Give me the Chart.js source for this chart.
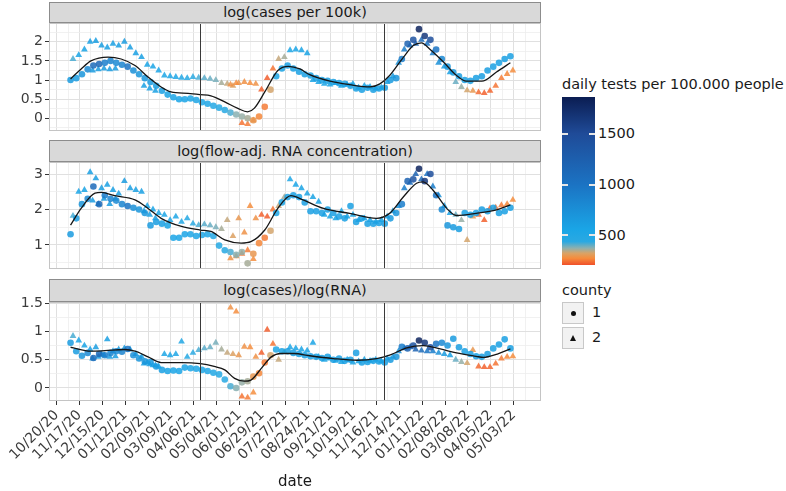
<!DOCTYPE html>
<html>
<head>
<meta charset="utf-8">
<script src="https://cdn.jsdelivr.net/npm/chart.js@4.4.0/dist/chart.umd.min.js"></script>
<style>
  body { margin: 0; width: 786px; height: 491px; background: #fff; position: relative; overflow: hidden;
         font-family: "DejaVu Sans", sans-serif; }
  canvas { position: absolute; left: 0; }
  .strip { position: absolute; left: 49px; width: 492px; background: #d9d9d9; border: 1px solid #8c8c8c;
           box-sizing: border-box; text-align: center; font-size: 14.5px; color: #1a1a1a; }
  .lt { position: absolute; font-size: 14.5px; line-height: 17px; color: #1a1a1a; white-space: nowrap; }
  #bar { position: absolute; left: 562px; top: 97px; width: 33px; height: 168px; }
  .tk { position: absolute; width: 6px; height: 2px; background: #e6e6e6; }
  .key { position: absolute; left: 562px; width: 22px; height: 22px; background: #f2f2f2; border: 1px solid #c8c8c8; box-sizing: border-box; }
  .dot { position: absolute; left: 8px; top: 8px; width: 5px; height: 5px; border-radius: 50%; background: #111; }
  .tri { position: absolute; left: 7px; top: 7px; width: 0; height: 0; border-left: 3.5px solid transparent;
         border-right: 3.5px solid transparent; border-bottom: 6px solid #111; }
</style>
</head>
<body>
<div class="strip" style="top:2px;height:21px;line-height:19px">log(cases per 100k)</div>
<div class="strip" style="top:140px;height:22px;line-height:20px">log(flow-adj. RNA concentration)</div>
<div class="strip" style="top:279px;height:23px;line-height:21px">log(cases)/log(RNA)</div>
<canvas id="p1" width="550" height="108" style="top:23px"></canvas>
<canvas id="p2" width="550" height="107" style="top:162px"></canvas>
<canvas id="p3" width="550" height="199" style="top:292px"></canvas>

<div class="lt" style="left:562px;top:76px">daily tests per 100.000 people</div>
<div id="bar"></div>
<div class="lt" style="left:562px;top:282px">county</div>
<div class="key" style="top:302px"><span class="dot"></span></div>
<div class="lt" style="left:592px;top:304px">1</div>
<div class="key" style="top:327px"><span class="tri"></span></div>
<div class="lt" style="left:592px;top:329px">2</div>

<script>
// x axis: days since 10/20/20
const tickLabels = ['10/20/20', '11/17/20', '12/15/20', '01/12/21', '02/09/21', '03/09/21', '04/06/21',
  '05/04/21', '06/01/21', '06/29/21', '07/27/21', '08/24/21', '09/21/21', '10/19/21', '11/16/21',
  '12/14/21', '01/11/22', '02/08/22', '03/08/22', '04/05/22', '05/03/22'];
const vlineDays = [176, 401];
const xRange = [-9.4, 593.5];

// county 1 (circles)
const c1Day = [17, 24, 31, 38, 45, 52, 59, 66, 73, 80,
  87, 94, 101, 108, 115, 122, 129, 136, 143, 150,
  157, 164, 171, 178, 185, 192, 199, 206, 213, 220,
  227, 234, 241, 248, 255, 262, 269, 276, 283, 290,
  297, 304, 311, 318, 325, 332, 339, 346, 353, 360,
  367, 374, 381, 388, 395, 402, 409, 416, 423, 430,
  437, 444, 451, 458, 465, 472, 479, 486, 493, 500,
  507, 514, 521, 528, 535, 542, 549, 556];
const c1Cases = [1.0, 1.05, 1.15, 1.28, 1.38, 1.42, 1.45, 1.5, 1.45, 1.4,
  1.35, 1.25, 1.15, 1.05, 0.95, 0.85, 0.72, 0.62, 0.55, 0.5,
  0.5, 0.52, 0.48, 0.42, 0.38, 0.33, 0.28, 0.22, 0.15, 0.1,
  0.05, 0.0, -0.05, 0.05, 0.3, 0.75, 1.1, 1.3, 1.38, 1.3,
  1.22, 1.15, 1.12, 1.05, 1.0, 0.98, 0.95, 0.92, 0.9, 0.85,
  0.78, 0.75, 0.8, 0.75, 0.78, 0.8, 1.0, 1.05, 1.55, 1.95,
  2.05, 2.33, 2.15, 2.05, 1.8, 1.55, 1.35, 1.2, 1.1, 1.0,
  0.98, 1.05, 1.1, 1.25, 1.35, 1.45, 1.55, 1.62];
const c1Rna = [1.3, 1.75, 2.15, 2.3, 2.65, 2.15, 2.4, 2.3, 2.25, 2.15,
  2.1, 2.05, 2.0, 1.9, 1.55, 1.65, 1.6, 1.55, 1.2, 1.2,
  1.3, 1.3, 1.25, 1.28, 1.3, 1.25, 0.98, 0.85, 0.8, 0.72,
  0.8, 0.48, 0.75, 1.05, 1.2, 1.4, 1.9, 2.2, 2.35, 2.4,
  2.35, 2.2, 1.95, 1.95, 1.9, 2.0, 1.9, 1.8, 1.75, 2.1,
  1.65, 1.75, 1.6, 1.6, 1.62, 1.6, 1.75, 1.9, 2.15, 2.8,
  2.85, 3.15, 2.8, 3.0, 2.4, 2.0, 1.55, 1.5, 1.45, 1.9,
  1.85, 1.9, 2.0, 1.95, 2.05, 1.9, 1.95, 2.05];
const c1Ratio = [0.8, 0.65, 0.57, 0.62, 0.53, 0.6, 0.58, 0.62, 0.65, 0.64,
  0.69, 0.58, 0.52, 0.47, 0.46, 0.38, 0.32, 0.3, 0.31, 0.3,
  0.36, 0.35, 0.34, 0.32, 0.3, 0.27, 0.24, 0.15, 0.03, 0.0,
  0.1, 0.12, 0.2, 0.26, 0.45, 0.58, 0.68, 0.65, 0.65, 0.62,
  0.6, 0.58, 0.56, 0.55, 0.53, 0.55, 0.5, 0.52, 0.48, 0.5,
  0.62, 0.45, 0.46, 0.48, 0.47, 0.45, 0.5, 0.55, 0.73, 0.7,
  0.75, 0.84, 0.8, 0.72, 0.78, 0.8, 0.75, 0.87, 0.72, 0.65,
  0.6, 0.56, 0.55, 0.6, 0.7, 0.77, 0.86, 0.7];
const c1Tests = [650, 640, 700, 800, 1100, 1150, 900, 850, 800, 850,
  1000, 750, 700, 680, 650, 620, 600, 580, 560, 560,
  550, 540, 530, 520, 520, 500, 480, 460, 420, 380,
  370, 360, 300, 270, 260, 330, 520, 580, 600, 600,
  600, 600, 600, 600, 600, 600, 600, 600, 600, 600,
  600, 600, 600, 600, 600, 620, 650, 700, 900, 1200,
  1400, 1800, 1650, 1450, 1000, 800, 700, 650, 620, 600,
  600, 600, 620, 620, 600, 600, 600, 600];

// county 2 (triangles)
const c2Day = [20, 27, 34, 41, 48, 55, 62, 69, 76, 83,
  90, 97, 104, 111, 118, 125, 132, 139, 146, 153,
  160, 167, 174, 181, 188, 195, 202, 209, 216, 223,
  230, 237, 244, 251, 258, 265, 272, 279, 286, 293,
  300, 307, 314, 321, 328, 335, 342, 349, 356, 363,
  370, 377, 384, 391, 398, 405, 412, 419, 426, 433,
  440, 447, 454, 461, 468, 475, 482, 489, 496, 503,
  510, 517, 524, 531, 538, 545, 552, 559,
  44, 51, 58, 65, 72, 107, 114, 121, 213, 220, 227, 234, 241];
const c2Cases = [1.55, 1.65, 1.8, 2.0, 2.02, 1.9, 1.85, 1.95, 1.9, 2.0,
  1.85, 1.7, 1.6, 1.4, 1.35, 1.25, 1.12, 1.1, 1.08, 1.06,
  1.05, 1.08, 1.06, 1.05, 1.03, 1.0, 0.92, 0.9, 0.85, 0.92,
  0.95, 0.92, 0.9, 0.75, 1.05, 1.3, 1.55, 1.6, 1.78, 1.8,
  1.78, 1.7, 1.0, 0.95, 0.9, 0.88, 0.92, 0.85, 0.88, 0.9,
  0.8, 0.85, 0.82, 0.78, 0.8, 0.95, 1.1, 1.45, 1.8, 1.9,
  1.95, 2.05, 1.95, 1.7, 1.45, 1.35, 1.2, 0.95, 0.82, 0.73,
  0.72, 0.68, 0.66, 0.72, 0.85, 1.05, 1.16, 1.25,
  1.25, 1.28, 1.3, 1.28, 1.3, 0.85, 0.78, 0.72, 0.88, 0.92, -0.12, -0.15, -0.05];
const c2Rna = [1.82, 2.5, 2.55, 3.05, 2.88, 2.6, 2.7, 2.55, 2.45, 2.8,
  2.6, 2.55, 2.5, 2.1, 2.0, 1.9, 1.85, 1.7, 1.8, 1.65,
  1.75, 1.6, 1.56, 1.58, 1.55, 1.5, 1.45, 1.7, 1.25, 1.75,
  1.35, 2.1, 1.75, 1.85, 1.8, 2.0, 2.1, 2.35, 2.85, 2.7,
  2.6, 2.45, 2.35, 2.22, 1.85, 1.8, 1.75, 1.95, 1.8, 1.85,
  1.7, 1.75, 1.7, 1.65, 1.7, 1.8, 1.95, 2.1, 2.6, 2.75,
  3.0, 2.85, 3.0, 2.65, 2.4, 2.1, 1.9, 1.85, 1.7, 1.14,
  1.8, 1.85, 1.7, 2.03, 2.05, 2.12, 2.15, 2.27,
  2.25, 2.15, 2.3, 2.15, 2.3, 1.95, 1.85, 1.75, 0.62, 0.68, 0.75, 0.85, 0.6];
const c2Ratio = [0.92, 0.84, 0.75, 0.68, 0.72, 0.6, 0.86, 0.65, 0.68, 0.7,
  0.68, 0.6, 0.55, 0.45, 0.4, 0.38, 0.6, 0.58, 0.6, 0.82,
  0.55, 0.62, 0.67, 0.7, 0.72, 0.8, 0.68, 0.62, 0.6, 0.58,
  0.73, 0.72, 0.55, 0.62, 1.03, 0.78, 0.5, 0.64, 0.72, 0.7,
  0.68, 0.66, 0.8, 0.55, 0.5, 0.52, 0.48, 0.46, 0.5, 0.45,
  0.47, 0.5, 0.48, 0.5, 0.47, 0.52, 0.55, 0.65, 0.7, 0.72,
  0.68, 0.66, 0.65, 0.65, 0.62, 0.6, 0.58, 0.5, 0.46, 0.44,
  0.67, 0.38, 0.37, 0.37, 0.43, 0.52, 0.55, 0.56,
  0.52, 0.55, 0.58, 0.55, 0.56, 0.43, 0.42, 0.4, 1.42, 1.35, -0.15, -0.17, -0.08];
const c2Tests = [420, 560, 580, 600, 620, 620, 600, 600, 620, 650,
  620, 600, 600, 580, 560, 550, 540, 530, 520, 500,
  480, 440, 420, 410, 400, 390, 360, 340, 320, 300,
  290, 280, 290, 230, 225, 250, 340, 360, 540, 560,
  580, 580, 580, 580, 580, 580, 580, 580, 580, 580,
  580, 580, 580, 580, 580, 620, 650, 750, 900, 1100,
  1200, 1100, 1000, 900, 750, 650, 600, 400, 370, 330,
  300, 240, 230, 235, 250, 260, 270, 280,
  650, 650, 650, 650, 650, 600, 600, 600, 290, 280, 250, 260, 280];

// smoothed trend per panel
const s1Day = [17, 30, 42, 63, 79, 96, 112, 128, 140, 161, 176, 189, 206, 222, 234, 242, 255, 271,
  284, 298, 310, 335, 359, 384, 396, 408, 425, 437, 447, 457, 474, 490, 502, 521, 539, 556];
const s1Val = [1.03, 1.29, 1.5, 1.6, 1.55, 1.38, 1.08, 0.82, 0.69, 0.65, 0.62, 0.59, 0.43, 0.26, 0.17, 0.26, 0.69, 1.25,
  1.36, 1.29, 1.14, 0.97, 0.88, 0.82, 0.9, 1.12, 1.6, 1.9, 1.97, 1.81, 1.47, 1.12, 0.97, 0.97, 1.21, 1.45];
const s2Day = [17, 30, 47, 55, 71, 96, 112, 128, 153, 176, 189, 206, 226, 238, 255, 271,
  287, 302, 327, 359, 392, 408, 425, 441, 449, 461, 478, 490, 514, 539, 556];
const s2Val = [1.56, 2.03, 2.46, 2.48, 2.39, 2.27, 2.03, 1.75, 1.52, 1.42, 1.38, 1.14, 1.05, 1.09, 1.42, 2.03,
  2.39, 2.27, 2.03, 1.89, 1.75, 1.89, 2.36, 2.74, 2.78, 2.55, 2.03, 1.83, 1.89, 1.99, 2.13];
const s3Day = [17, 42, 59, 83, 96, 112, 128, 153, 176, 193, 206, 218, 230, 238, 251, 263,
  275, 291, 310, 339, 368, 392, 408, 429, 449, 470, 490, 514, 523, 540, 556];
const s3Val = [0.72, 0.65, 0.66, 0.68, 0.65, 0.55, 0.45, 0.45, 0.43, 0.38, 0.32, 0.17, 0.12, 0.14, 0.35, 0.55,
  0.61, 0.61, 0.57, 0.52, 0.49, 0.52, 0.58, 0.71, 0.75, 0.69, 0.62, 0.56, 0.54, 0.6, 0.69];

// y axes per panel
const yMins = [-0.33, 0.32, -0.23];
const yMaxs = [2.49, 3.34, 1.52];
const yBreaks = [[0, 0.5, 1, 1.5, 2], [1, 2, 3], [0, 0.5, 1, 1.5]];

// colour scale for daily tests
const testStops = [210, 276, 326, 375, 440, 560, 1000, 1500, 1860];
const testColors = ['#f0502a', '#f68c3c', '#d9a366', '#8fb0ae', '#2aa9e2', '#1aa5e6', '#1b73c3', '#1f4b98', '#0b1d52'];
const legendBreaks = [500, 1000, 1500];

const FONT = '"DejaVu Sans", sans-serif';

function hexRgb(h) {
  return [1, 3, 5].map(i => parseInt(h.substr(i, 2), 16));
}

function testColor(t, alpha) {
  let i = 0;
  while (i < testStops.length - 2 && t > testStops[i + 1]) i++;
  let f = (t - testStops[i]) / (testStops[i + 1] - testStops[i]);
  f = Math.min(1, Math.max(0, f));
  const a = hexRgb(testColors[i]), b = hexRgb(testColors[i + 1]);
  const c = a.map((v, k) => Math.round(v + (b[k] - v) * f));
  return `rgba(${c[0]}, ${c[1]}, ${c[2]}, ${alpha})`;
}

function dayOf(s) {
  const [m, d, y] = s.split('/').map(Number);
  return Math.round((Date.UTC(2000 + y, m - 1, d) - Date.UTC(2020, 9, 20)) / 864e5);
}

const majorX = tickLabels.map(dayOf);
const xTicks = [];
majorX.forEach(v => {
  xTicks.push({ value: v, major: true });
  if (v + 14 < xRange[1]) xTicks.push({ value: v + 14, major: false });
});

// vertical lines and the panel frame
const panelDecor = {
  id: 'panelDecor',
  afterDatasetsDraw(chart) {
    const { ctx, chartArea: a } = chart;
    const x = chart.scales.x;
    ctx.save();
    ctx.strokeStyle = '#3a3a3a';
    ctx.lineWidth = 1;
    vlineDays.forEach(d => {
      const px = Math.round(x.getPixelForValue(d)) + 0.5;
      ctx.beginPath();
      ctx.moveTo(px, a.top);
      ctx.lineTo(px, a.bottom);
      ctx.stroke();
    });
    ctx.strokeStyle = '#c4c4c4';
    ctx.strokeRect(a.left + 0.5, a.top + 0.5, a.width - 1, a.height - 1);
    ctx.restore();
  }
};

const isMajor = c => c.tick && c.tick.major;

function buildPanel(id, k, bottom, padTop) {
  const yMajor = yBreaks[k];
  const step = yMajor[1] - yMajor[0];
  const yTicks = yMajor.map(v => ({ value: v, major: true }));
  [yMajor[0] - step / 2].concat(yMajor.map(v => v + step / 2)).forEach(v => {
    if (v > yMins[k] && v < yMaxs[k]) yTicks.push({ value: v, major: false });
  });
  yTicks.sort((p, q) => p.value - q.value);

  const c1Val = [c1Cases, c1Rna, c1Ratio][k];
  const c2Val = [c2Cases, c2Rna, c2Ratio][k];
  const sDay = [s1Day, s2Day, s3Day][k];
  const sVal = [s1Val, s2Val, s3Val][k];

  new Chart(document.getElementById(id), {
    type: 'scatter',
    data: {
      datasets: [
        {
          data: sDay.map((d, i) => ({ x: d, y: sVal[i] })),
          showLine: true, borderColor: '#151515', borderWidth: 1.3,
          pointRadius: 0, cubicInterpolationMode: 'monotone'
        },
        {
          data: c1Day.map((d, i) => ({ x: d, y: c1Val[i] })),
          pointStyle: 'circle', pointRadius: 3.3, pointBorderWidth: 0,
          pointBackgroundColor: c1Tests.map(t => testColor(t, 0.85))
        },
        {
          data: c2Day.map((d, i) => ({ x: d, y: c2Val[i] })),
          pointStyle: 'triangle', pointRadius: 3.9, pointBorderWidth: 0,
          pointBackgroundColor: c2Tests.map(t => testColor(t, 0.85))
        }
      ]
    },
    options: {
      responsive: false,
      animation: false,
      events: [],
      layout: { autoPadding: false, padding: { left: 0, right: 9, top: padTop, bottom: 0 } },
      plugins: { legend: { display: false }, tooltip: { enabled: false } },
      scales: {
        x: {
          type: 'linear',
          min: xRange[0],
          max: xRange[1],
          afterBuildTicks: axis => { axis.ticks = xTicks.map(t => ({ ...t })); },
          afterFit: axis => {
            axis.height = bottom ? 90 : 0;
            axis.paddingLeft = 0;
            axis.paddingRight = 0;
          },
          border: { display: false },
          grid: {
            color: c => isMajor(c) ? '#e0e0e0' : '#ededed',
            lineWidth: c => isMajor(c) ? 1 : 0.8,
            drawTicks: bottom,
            tickLength: 4,
            tickColor: c => isMajor(c) ? '#333' : 'rgba(0,0,0,0)'
          },
          ticks: {
            display: bottom,
            autoSkip: false,
            minRotation: 45,
            maxRotation: 45,
            padding: 2,
            color: '#3c3c3c',
            font: { family: FONT, size: 14 },
            callback: (v, i, ticks) => ticks[i].major ? tickLabels[majorX.indexOf(v)] : ''
          },
          title: {
            display: bottom,
            text: 'date',
            color: '#1a1a1a',
            font: { family: FONT, size: 15 },
            padding: { top: 0, bottom: 0 }
          }
        },
        y: {
          type: 'linear',
          min: yMins[k],
          max: yMaxs[k],
          afterBuildTicks: axis => { axis.ticks = yTicks.map(t => ({ ...t })); },
          afterFit: axis => {
            axis.width = 49;
            axis.paddingTop = 0;
            axis.paddingBottom = 0;
          },
          border: { display: false },
          grid: {
            color: c => isMajor(c) ? '#e0e0e0' : '#ededed',
            lineWidth: c => isMajor(c) ? 1 : 0.8,
            tickLength: 4,
            tickColor: c => isMajor(c) ? '#333' : 'rgba(0,0,0,0)'
          },
          ticks: {
            autoSkip: false,
            padding: 2,
            color: '#3c3c3c',
            font: { family: FONT, size: 14 },
            callback: (v, i, ticks) => ticks[i].major ? String(v) : ''
          }
        }
      }
    },
    plugins: [panelDecor]
  });
}

buildPanel('p1', 0, false, 0);
buildPanel('p2', 1, false, 0);
buildPanel('p3', 2, true, 10);

// colour bar legend
const barTop = 97, barH = 168;
const barMin = testStops[0], barMax = testStops[testStops.length - 1];
const barY = v => barTop + (barMax - v) / (barMax - barMin) * barH;
const grad = testStops.map((v, i) =>
  `${testColors[i]} ${((v - barMin) / (barMax - barMin) * 100).toFixed(1)}%`).join(', ');
document.getElementById('bar').style.background = `linear-gradient(to top, ${grad})`;
legendBreaks.forEach(v => {
  const y = barY(v);
  [562, 589].forEach(left => {
    const t = document.createElement('div');
    t.className = 'tk';
    t.style.left = left + 'px';
    t.style.top = (y - 1) + 'px';
    document.body.appendChild(t);
  });
  const lab = document.createElement('div');
  lab.className = 'lt';
  lab.style.left = '598px';
  lab.style.top = (y - 8.5) + 'px';
  lab.textContent = String(v);
  document.body.appendChild(lab);
});
</script>
</body>
</html>
